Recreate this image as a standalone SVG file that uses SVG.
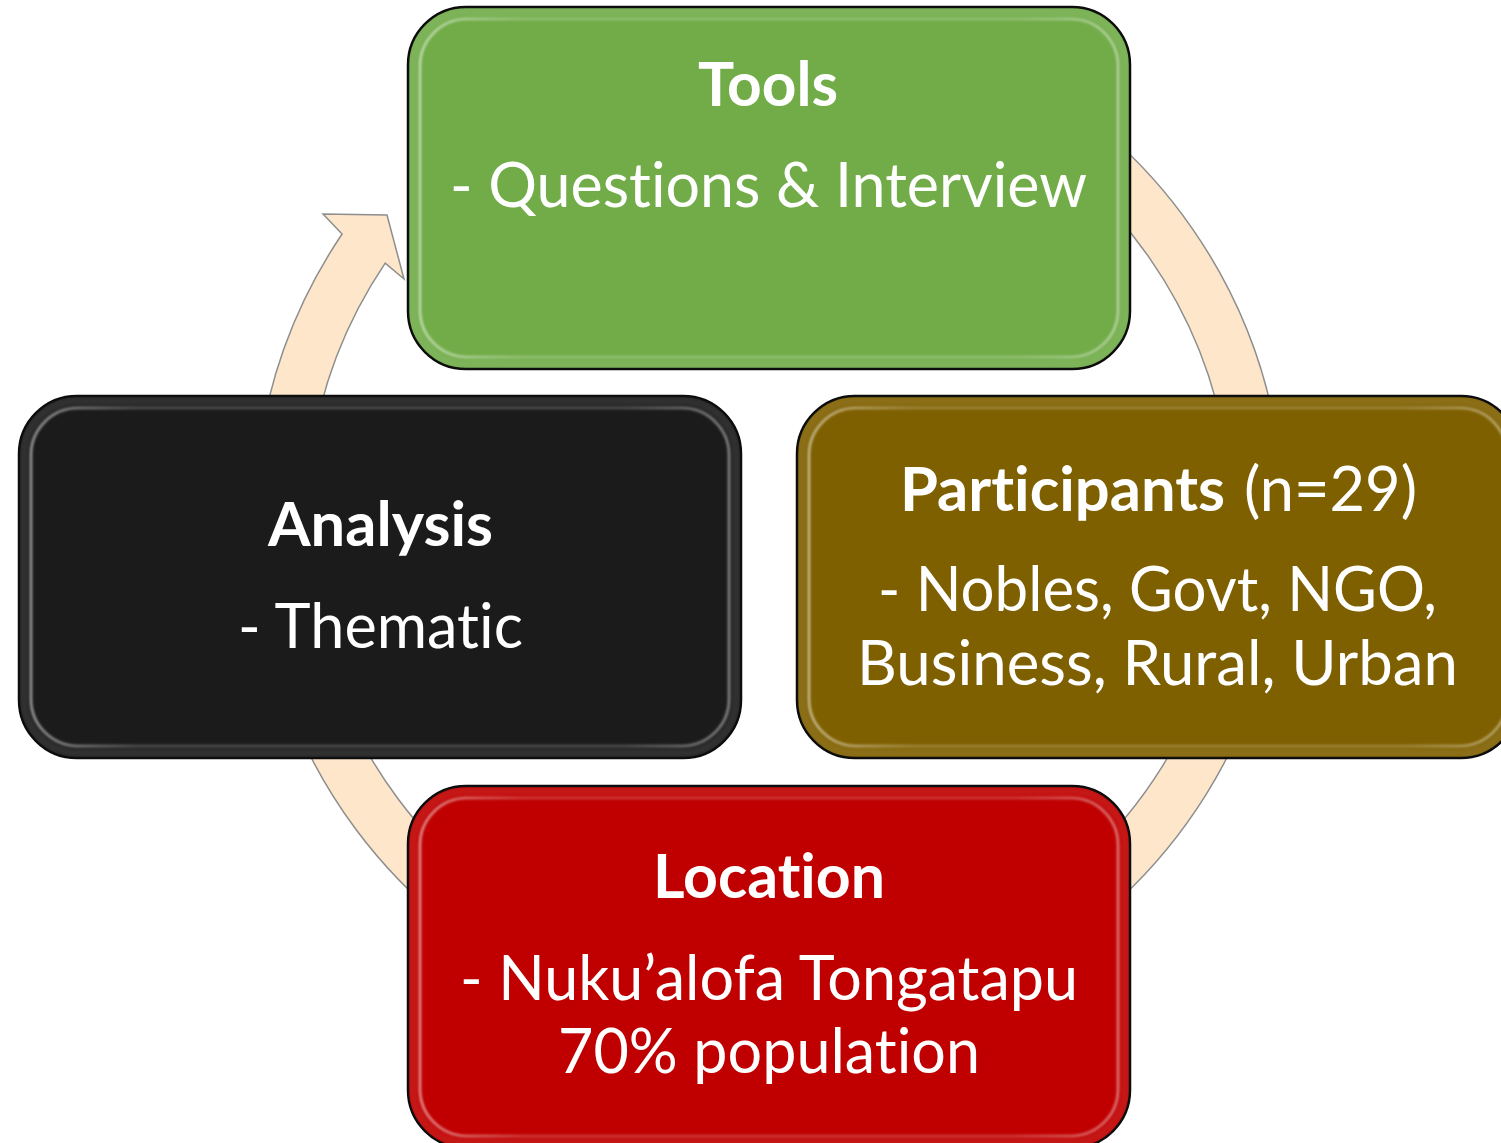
<svg xmlns="http://www.w3.org/2000/svg" width="1501" height="1143" viewBox="0 0 1501 1143">
  <defs>
    <filter id="soft" x="-5%" y="-5%" width="110%" height="110%">
      <feGaussianBlur stdDeviation="3"/>
    </filter>
    <filter id="soft2" x="-5%" y="-5%" width="110%" height="110%">
      <feGaussianBlur stdDeviation="1.2"/>
    </filter>
    <linearGradient id="hlg" x1="0" y1="0" x2="1" y2="0">
      <stop offset="0" stop-color="#fff" stop-opacity="0.55"/>
      <stop offset="0.15" stop-color="#fff" stop-opacity="0.2"/>
      <stop offset="0.85" stop-color="#fff" stop-opacity="0.2"/>
      <stop offset="1" stop-color="#fff" stop-opacity="0.45"/>
    </linearGradient>
  </defs>
  <style>
    .box { stroke: #000; stroke-width: 2.5; }
    .rim { fill: none; stroke: #fff; stroke-opacity: 0.1; stroke-width: 10; filter: url(#soft); }
    .hl { fill: none; stroke: url(#hlg); stroke-width: 2.5; filter: url(#soft2); }
    .t { fill: #fff; font-family: Lato, "Open Sans", "Liberation Sans", sans-serif; font-size: 62px; font-variant-ligatures: none; font-feature-settings: "liga" 0, "clig" 0; }
    .b { font-weight: bold; }
    .ring { fill: #FDE6CA; stroke: #8E8E8E; stroke-width: 1.5; }
  </style>
  <rect width="1501" height="1143" fill="#fff"/>
  <g id="connectors">
    <path class="ring" d="M 511.5 76 A 515 515 0 1 1 342.1 234 L 323 214 L 387 215 L 404 279 L 385.2 263.1 A 463 463 0 1 0 537.5 121 Z"/>
  </g>
  <g id="tools">
    <rect class="box" x="408" y="7" width="722" height="362" rx="58" fill="#71AC48"/>
    <rect class="rim" x="413" y="12" width="712" height="352" rx="53"/>
    <rect class="hl" x="420" y="19" width="698" height="338" rx="47"/>
    <text class="t b" x="698" y="106" textLength="140" lengthAdjust="spacingAndGlyphs">Tools</text>
    <text class="t" x="450" y="207" textLength="637" lengthAdjust="spacingAndGlyphs">- Questions &amp; Interview</text>
  </g>
  <g id="participants">
    <rect class="box" x="797" y="396" width="722" height="362" rx="58" fill="#7F6000"/>
    <rect class="rim" x="802" y="401" width="712" height="352" rx="53"/>
    <rect class="hl" x="809" y="408" width="698" height="338" rx="47"/>
    <text class="t b" x="900" y="511" textLength="325" lengthAdjust="spacingAndGlyphs">Participants</text>
    <text class="t" x="1244" y="511" textLength="173" lengthAdjust="spacingAndGlyphs">(n=29)</text>
    <text class="t" x="878" y="611" textLength="559" lengthAdjust="spacingAndGlyphs">- Nobles, Govt, NGO,</text>
    <text class="t" x="857" y="685" textLength="601" lengthAdjust="spacingAndGlyphs">Business, Rural, Urban</text>
  </g>
  <g id="analysis">
    <rect class="box" x="19" y="396" width="722" height="362" rx="58" fill="#1B1B1B"/>
    <rect class="rim" x="24" y="401" width="712" height="352" rx="53"/>
    <rect class="hl" x="31" y="408" width="698" height="338" rx="47"/>
    <text class="t b" x="268" y="546" textLength="225" lengthAdjust="spacingAndGlyphs">Analysis</text>
    <text class="t" x="238" y="648" textLength="285" lengthAdjust="spacingAndGlyphs">- Thematic</text>
  </g>
  <g id="location">
    <rect class="box" x="408" y="786" width="722" height="362" rx="58" fill="#C00000"/>
    <rect class="rim" x="413" y="791" width="712" height="352" rx="53"/>
    <rect class="hl" x="420" y="798" width="698" height="338" rx="47"/>
    <text class="t b" x="653" y="898" textLength="232" lengthAdjust="spacingAndGlyphs">Location</text>
    <text class="t" x="460" y="1000" textLength="618" lengthAdjust="spacingAndGlyphs">- Nuku’alofa Tongatapu</text>
    <text class="t" x="558" y="1073" textLength="422" lengthAdjust="spacingAndGlyphs">70% population</text>
  </g>
</svg>
